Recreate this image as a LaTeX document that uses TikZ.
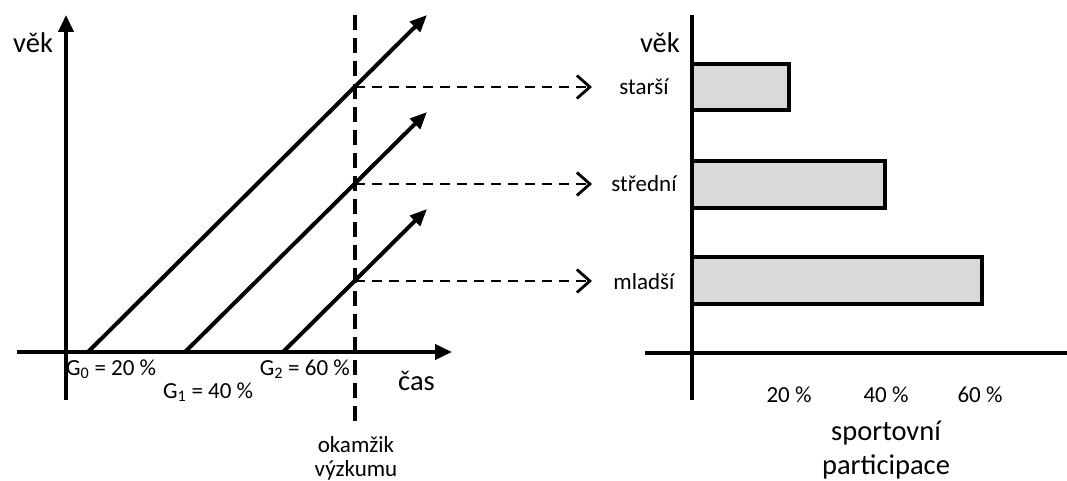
\documentclass[tikz,border=0pt]{standalone}
\usepackage{fontspec}
\setmainfont{Carlito}
\usetikzlibrary{arrows.meta}
\newcommand\bigtxt{\fontsize{28.5}{34}\selectfont}
\newcommand\smtxt{\fontsize{23}{27}\selectfont}
\begin{document}
\begin{tikzpicture}[x=1pt,y=-1pt,
  axisline/.style={line width=4pt,-{Triangle[length=17pt,width=15pt]}},
  cohort/.style={line width=4pt,-{Triangle[length=17pt,width=14pt]}},
  timeline/.style={line width=4pt,dash pattern=on 15pt off 8pt},
  proj/.style={line width=2pt,dash pattern=on 10pt off 7pt,-{Straight Barb[length=13pt,width=23pt,line width=2.8pt]}},
  bar/.style={draw,line width=4pt,fill=black!15},
  raxis/.style={line width=3.5pt},
  lbl/.style={inner sep=0pt,font=\smtxt},
  biglbl/.style={inner sep=0pt,font=\bigtxt}]
\useasboundingbox (0,0) rectangle (1067,481);
% left panel coordinates
\coordinate (yb) at (66,400);
\coordinate (yt) at (66,15);
\coordinate (xl) at (17,352);
\coordinate (xr) at (452,352);
\coordinate (g0s) at (88,352);
\coordinate (g0e) at (427,15);
\coordinate (g1s) at (185,352);
\coordinate (g1e) at (427,112);
\coordinate (g2s) at (283,352);
\coordinate (g2e) at (427,209);
\coordinate (tt) at (355,15);
\coordinate (tb) at (355,425);
\coordinate (p0) at (355,87);
\coordinate (p1) at (355,184);
\coordinate (p2) at (355,281);
\coordinate (a0) at (592,87);
\coordinate (a1) at (592,184);
\coordinate (a2) at (592,281);
% axes
\draw[axisline] (yb) -- (yt);
\draw[axisline] (xl) -- (xr);
% cohorts
\draw[cohort] (g0s) -- (g0e);
\draw[cohort] (g1s) -- (g1e);
\draw[cohort] (g2s) -- (g2e);
% time of research
\draw[timeline] (tt) -- (tb);
% projections
\draw[proj] (p0) -- (a0);
\draw[proj] (p1) -- (a1);
\draw[proj] (p2) -- (a2);
% left labels
\node[biglbl,anchor=base west] (vek1) at (13,53) {věk};
\node[biglbl,anchor=base west] (cas) at (398,390) {čas};
\node[lbl,anchor=base west] (g0) at (66,375) {G\textsubscript{0} = 20 \%};
\node[lbl,anchor=base west] (g1) at (163,398) {G\textsubscript{1} = 40 \%};
\node[lbl,anchor=base east] (g2) at (350,375) {G\textsubscript{2} = 60 \%};
\node[lbl,anchor=base] (ok1) at (356,452) {okamžik};
\node[lbl,anchor=base] (ok2) at (356,476) {výzkumu};
% right panel
\coordinate (rb) at (692,400);
\coordinate (rt) at (692,15);
\coordinate (hl) at (645,353);
\coordinate (hr) at (1067,353);
\draw[bar] (692,64.5) rectangle (789,110);
\draw[bar] (692,161) rectangle (885,208);
\draw[bar] (692,257) rectangle (982,304);
\draw[raxis] (rb) -- (rt);
\draw[raxis] (hl) -- (hr);
\node[biglbl,anchor=base east] (vek2) at (680,53) {věk};
\node[lbl,anchor=base] (s0) at (644,95) {starší};
\node[lbl,anchor=base] (s1) at (644,192) {střední};
\node[lbl,anchor=base] (s2) at (644,289) {mladší};
\node[lbl,anchor=base] (pc20) at (789,402) {20 \%};
\node[lbl,anchor=base] (pc40) at (886,402) {40 \%};
\node[lbl,anchor=base] (pc60) at (980,402) {60 \%};
\node[biglbl,anchor=base] (sp1) at (886,440) {sportovní};
\node[biglbl,anchor=base] (sp2) at (886,474) {participace};
\end{tikzpicture}
\end{document}
